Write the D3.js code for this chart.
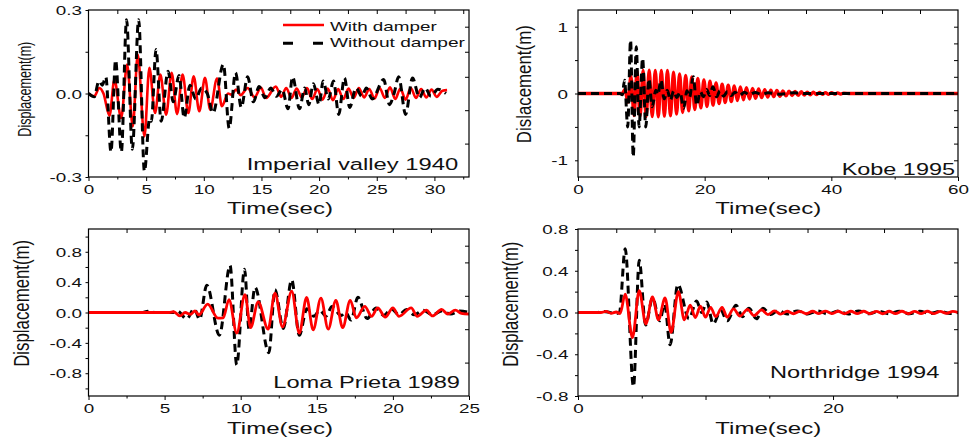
<!DOCTYPE html>
<html>
<head>
<meta charset="utf-8">
<script src="https://cdn.jsdelivr.net/npm/d3@7"></script>
<style>
  body { margin: 0; background: #fff; }
  svg { display: block; }
</style>
</head>
<body>
<main></main>
<script>
const width = 969;
const height = 445;
const FONT = "'Liberation Sans', Arial, sans-serif";
const STRETCH = 1.45; // the source picture is stretched sideways

// ---- data: [time (s), displacement (m)] at the wave extremes ----
const imperialWith = [[0,0],[0.5,-0.01],[0.95,0.02],[1.3,0.0],[1.82,-0.08],[2.25,0.05],[2.83,-0.088],[3.35,0.104],[3.84,-0.118],[4.27,0.14],[4.85,-0.154],[5.28,0.092],[5.77,-0.07],[6.23,0.068],[6.73,-0.076],[7.21,0.074],[7.68,-0.074],[8.16,0.068],[8.66,-0.07],[9.12,0.062],[9.61,-0.064],[10.1,0.056],[10.56,-0.058],[11.15,0.054],[11.57,-0.046],[12.1,0.0],[12.4,-0.004],[12.8,0.014],[13.2,-0.006],[13.8,0.02],[14.4,-0.014],[14.95,0.021],[15.4,-0.016],[16.25,0.025],[16.7,-0.012],[17.15,0.02],[17.6,-0.016],[18.05,0.018],[18.5,-0.014],[18.95,0.02],[19.4,-0.02],[19.85,0.016],[20.3,-0.022],[20.75,0.018],[21.2,-0.024],[21.65,0.016],[22.1,-0.02],[22.55,0.018],[23.0,-0.016],[23.45,0.02],[23.9,-0.014],[24.35,0.016],[24.8,-0.018],[25.25,0.02],[25.7,-0.016],[26.15,0.022],[26.6,-0.02],[27.05,0.018],[27.5,-0.022],[27.95,0.02],[28.4,-0.016],[28.85,0.016],[29.3,-0.014],[29.75,0.014],[30.2,-0.012],[30.7,0.01],[31.1,0.012]];
const imperialWithout = [[0,0],[0.5,-0.012],[0.9,0.045],[1.2,0.03],[1.5,0.06],[1.95,-0.21],[2.35,0.12],[2.85,-0.21],[3.3,0.265],[3.8,-0.2],[4.35,0.265],[4.85,-0.28],[5.3,-0.09],[5.45,-0.1],[5.86,0.158],[6.3,-0.1],[6.9,0.08],[7.35,-0.03],[7.85,0.065],[8.3,-0.088],[8.8,0.03],[9.3,-0.02],[9.8,0.02],[10.3,0.0],[10.8,-0.07],[11.7,0.105],[12.2,-0.125],[12.75,0.075],[13.25,-0.05],[13.8,0.06],[14.3,-0.03],[14.8,0.025],[15.3,-0.015],[15.8,0.02],[16.3,-0.01],[16.8,0.015],[17.3,-0.055],[17.7,0.06],[18.3,-0.055],[18.75,0.02],[19.1,-0.04],[19.5,0.035],[20.0,-0.04],[20.35,0.045],[20.8,-0.02],[21.25,0.045],[21.7,-0.075],[22.2,0.056],[22.65,-0.05],[23.2,0.02],[23.7,-0.01],[24.1,0.02],[24.6,-0.02],[25.6,0.05],[26.1,-0.04],[26.5,0.0],[26.9,0.06],[27.5,-0.075],[28.1,0.056],[28.7,-0.015],[29.2,0.02],[29.7,-0.01],[30.3,0.015],[31.0,0.0]];

const kobeWith = [[0,0],[7.0,0],[7.40,0.06],[7.88,-0.13],[8.36,0.26],[8.84,-0.33],[9.32,0.34],[9.80,-0.34],[10.28,0.345],[10.76,-0.345],[11.24,0.35],[11.72,-0.345],[12.20,0.345],[12.68,-0.35],[13.16,0.345],[13.64,-0.34],[14.12,0.345],[14.60,-0.335],[15.08,0.32],[15.56,-0.31],[16.04,0.295],[16.52,-0.285],[17.00,0.27],[17.48,-0.26],[17.96,0.25],[18.44,-0.24],[18.92,0.225],[19.40,-0.215],[19.88,0.205],[20.36,-0.195],[20.84,0.185],[21.32,-0.175],[21.80,0.16],[22.28,-0.15],[22.76,0.14],[23.24,-0.135],[23.72,0.125],[24.20,-0.12],[24.68,0.112],[25.16,-0.106],[25.64,0.1],[26.12,-0.094],[26.60,0.088],[27.08,-0.082],[27.56,0.077],[28.04,-0.072],[28.52,0.067],[29.00,-0.063],[29.48,0.059],[29.96,-0.055],[30.44,0.051],[30.92,-0.048],[31.40,0.045],[31.88,-0.042],[32.36,0.039],[32.84,-0.036],[33.32,0.034],[33.80,-0.032],[34.28,0.03],[34.76,-0.028],[35.24,0.026],[35.72,-0.024],[36.20,0.022],[36.68,-0.02],[37.16,0.019],[37.64,-0.017],[38.12,0.016],[38.60,-0.014],[39.08,0.013],[39.56,-0.012],[40.04,0.011],[40.52,-0.01],[41.00,0.009],[41.48,-0.008],[41.96,0.007],[43,0],[60,0]];
const kobeWithout = [[0,0],[6.6,0],[7.0,-0.02],[7.35,0.2],[7.85,-0.5],[8.3,0.8],[8.72,-0.95],[9.2,0.7],[9.65,-0.5],[10.2,0.53],[10.7,-0.5],[11.2,0.22],[11.7,-0.2],[12.3,0.05],[12.6,-0.02],[13.1,0.2],[13.6,-0.08],[14.1,0.05],[14.6,-0.1],[15.1,0.04],[15.6,-0.06],[16.1,0.02],[16.7,-0.22],[17.2,0.04],[17.6,-0.06],[18.2,0.25],[18.75,-0.18],[19.3,0.03],[19.8,-0.05],[20.3,0.06],[20.8,-0.03],[21.3,0.1],[21.9,-0.05],[22.4,0.04],[23.0,-0.04],[23.6,0.03],[24.2,-0.03],[24.8,0.02],[25.5,-0.03],[26.3,0.02],[27.0,-0.02],[28.0,0.015],[29.0,-0.015],[30.0,0.01],[32.0,-0.01],[34.0,0.01],[36.0,0],[60,0]];

const lomaWith = [[0,0],[5.3,0],[5.6,0.01],[6.0,-0.045],[6.35,0.0],[6.7,-0.025],[7.0,0.02],[7.25,-0.03],[7.83,0.11],[8.5,-0.075],[8.85,-0.07],[9.23,0.17],[9.74,-0.27],[10.28,0.235],[10.65,-0.2],[11.15,0.14],[11.8,-0.22],[12.25,0.256],[12.75,-0.19],[13.35,0.28],[13.85,-0.27],[14.33,0.2],[14.76,-0.23],[15.27,0.19],[15.75,-0.22],[16.25,0.16],[16.7,-0.2],[17.2,0.16],[17.6,-0.07],[18.15,0.08],[18.6,-0.05],[19.0,0.06],[19.5,-0.06],[20.0,0.06],[20.4,-0.05],[21.2,0.06],[21.6,-0.05],[22.2,0.03],[22.6,-0.045],[23.2,0.04],[23.6,-0.02],[24.1,0.03],[24.5,-0.01],[25,-0.02]];
const lomaWithout = [[0,0],[3.5,0],[3.9,0.015],[4.4,0],[5.5,0],[5.85,0.02],[6.45,-0.085],[6.95,0.05],[7.3,-0.09],[7.77,0.36],[8.6,-0.3],[9.3,0.62],[9.74,-0.69],[10.25,0.57],[10.55,-0.22],[10.94,0.33],[11.85,-0.53],[12.25,0.3],[12.8,-0.21],[13.35,0.43],[13.85,-0.3],[14.35,0.05],[14.8,-0.05],[15.2,0.03],[15.6,-0.05],[16.0,0.08],[16.6,-0.04],[16.9,0.0],[17.25,-0.1],[17.7,0.2],[18.3,-0.08],[18.9,0.06],[19.4,-0.04],[19.9,0.05],[20.4,-0.03],[20.9,0.04],[21.4,-0.03],[22.0,0.03],[22.6,-0.03],[23.2,0.02],[23.8,-0.02],[24.4,0.02],[25,0]];

const northWith = [[0,0],[1.8,0],[2.2,0.01],[2.6,-0.008],[3.0,0.005],[3.3,-0.01],[3.7,0.175],[4.27,-0.24],[4.8,0.21],[5.32,-0.11],[5.84,0.15],[6.31,-0.07],[6.83,0.14],[7.3,-0.19],[7.87,0.2],[8.34,-0.07],[8.8,0.07],[9.2,-0.05],[9.6,0.06],[10.0,-0.045],[10.4,0.05],[10.8,-0.04],[11.3,0.05],[11.7,-0.045],[12.2,0.035],[12.7,-0.035],[13.3,0.03],[13.8,-0.03],[14.4,0.025],[14.9,-0.02],[15.4,0.015],[15.9,-0.015],[16.4,0.012],[16.9,-0.012],[17.4,0.01],[17.9,-0.012],[18.4,0.012],[18.9,-0.01],[19.4,0.014],[19.9,-0.01],[20.4,0.012],[20.9,-0.012],[21.4,0.012],[21.9,-0.01],[22.4,0.012],[22.9,-0.012],[23.4,0.01],[23.9,-0.012],[24.4,0.012],[24.9,-0.01],[25.4,0.012],[25.9,-0.012],[26.4,0.01],[26.9,-0.01],[27.4,0.012],[27.9,-0.01],[28.4,0.01],[28.9,-0.008],[29.4,0.01],[29.8,0.0]];
const northWithout = [[0,0],[1.5,0],[2.0,0.01],[2.5,0],[3.0,-0.01],[3.25,0.0],[3.7,0.61],[4.35,-0.71],[4.8,0.5],[5.3,-0.12],[5.85,0.14],[6.4,-0.08],[6.8,0.08],[7.22,-0.31],[7.83,0.27],[8.7,-0.06],[9.3,0.11],[9.7,0.0],[10.1,0.1],[10.6,-0.11],[11.2,0.02],[11.7,-0.08],[12.4,0.07],[12.9,-0.04],[13.4,0.04],[14.0,-0.06],[14.5,0.04],[15.1,-0.02],[15.7,0.02],[16.4,-0.015],[17.2,0.015],[18.0,-0.015],[18.8,0.015],[19.6,-0.015],[20.4,0.015],[21.2,-0.015],[22.0,0.015],[22.8,-0.012],[23.6,0.012],[24.4,-0.012],[25.2,0.012],[26.0,-0.012],[26.8,0.012],[27.6,-0.01],[28.4,0.01],[29.2,-0.01],[29.8,0]];

// ---- ticks ----
const imperialXTicks = [0,5,10,15,20,25,30];
const imperialYTicks = [-0.3,-0.15,0,0.15,0.3];
const imperialYLabels = [-0.3,0,0.3];
const kobeXTicks = [0,20,40,60];
const kobeYTicks = [-1,-0.5,0,0.5,1];
const kobeYLabels = [-1,0,1];
const lomaXTicks = [0,5,10,15,20,25];
const lomaYTicks = [-1,-0.8,-0.6,-0.4,-0.2,0,0.2,0.4,0.6,0.8,1];
const lomaYLabels = [-0.8,-0.4,0,0.4,0.8];
const northXTicks = [0,10,20];
const northXLabels = [0,20];
const northYTicks = [-0.8,-0.6,-0.4,-0.2,0,0.2,0.4,0.6,0.8];
const northYLabels = [-0.8,-0.4,0,0.4,0.8];

const panels = [
    {id: 1, left: 88.5, right: 469, top: 10, bottom: 177, xDomain: [0, 33], yDomain: [-0.3, 0.3],
     red: imperialWith, black: imperialWithout, redOnTop: false, redWidth: 2.6,
     xMajor: imperialXTicks, xLabels: imperialXTicks, xMinor: [2.5,7.5,12.5,17.5,22.5,27.5,32.5],
     xTop: [2.5,5,7.5,10,12.5,15,17.5,20,22.5,25,27.5,30,32.5],
     yTicks: imperialYTicks, yLabels: imperialYLabels, yRight: [0.24,0.15,0.06,-0.06,-0.18],
     yFmt: v => v.toFixed(1), yGap: 6.5,
     yTitle: "Displacement(m)", yt: {cx: 24.7, cy: 89.2, size: 13, len: 95},
     timeX: 280, timeY: 214,
     note: "Imperial valley 1940", nt: {x: 246.7, y: 170, len: 211.6}},
    {id: 2, left: 578, right: 958, top: 10, bottom: 177, xDomain: [0, 60], yDomain: [-1.25, 1.25],
     red: kobeWith, black: kobeWithout, redOnTop: false, redWidth: 3.3,
     xMajor: kobeXTicks, xLabels: kobeXTicks, xMinor: [10,30,50],
     xTop: [6,12,18,24,30,36,42,48,54],
     yTicks: kobeYTicks, yLabels: kobeYLabels, yRight: [-1,-0.75,-0.5,-0.25,0,0.25,0.5,0.75,1],
     yFmt: v => String(v), yGap: 10,
     yTitle: "Dislacement(m)", yt: {cx: 524.2, cy: 84.2, size: 14, len: 118},
     timeX: 768.3, timeY: 214,
     note: "Kobe 1995", nt: {x: 841.7, y: 175, len: 113.3}},
    {id: 3, left: 88.5, right: 469, top: 229, bottom: 396, xDomain: [0, 25], yDomain: [-1.1, 1.1],
     red: lomaWith, black: lomaWithout, redOnTop: true, redWidth: 2.8,
     xMajor: lomaXTicks, xLabels: lomaXTicks, xMinor: [2.5,7.5,12.5,17.5,22.5],
     xTop: [2.5,5,7.5,10,12.5,15,17.5,20,22.5],
     yTicks: lomaYTicks, yLabels: lomaYLabels, yRight: [0.88,0.66,0.22,-0.22,-0.66],
     yFmt: v => v.toFixed(1), yGap: 6.5,
     yTitle: "Displacement(m)", yt: {cx: 21.7, cy: 303.3, size: 15, len: 127},
     timeX: 280, timeY: 433.5,
     note: "Loma Prieta 1989", nt: {x: 273.3, y: 387.7, len: 186.7}},
    {id: 4, left: 578, right: 958, top: 229, bottom: 396, xDomain: [0, 29.8], yDomain: [-0.8, 0.8],
     red: northWith, black: northWithout, redOnTop: true, redWidth: 2.8,
     xMajor: northXTicks, xLabels: northXLabels, xMinor: [5,15,25],
     xTop: [3,6,9,12,15,18,21,24,27],
     yTicks: northYTicks, yLabels: northYLabels, yRight: [0.48,0.16,-0.16,-0.48],
     yFmt: v => v.toFixed(1), yGap: 9.5,
     yTitle: "Displacement(m)", yt: {cx: 510.8, cy: 304.2, size: 15.5, len: 125},
     timeX: 768.3, timeY: 433.5,
     note: "Northridge 1994", nt: {x: 770, y: 378.3, len: 169.3}}
];

const svg = d3.select("main")
    .append("svg")
        .attr("width", width)
        .attr("height", height)
        .attr("font-family", FONT);

function stretch(sel, k) {
    sel.each(function() {
        const w = this.getComputedTextLength();
        if (w > 0) d3.select(this).attr("textLength", w * k).attr("lengthAdjust", "spacingAndGlyphs");
    });
}

function styleAxis(g) {
    g.select(".domain").remove();
    g.attr("font-family", FONT).attr("font-size", 13);
    g.selectAll(".tick line").attr("stroke", "#000").attr("stroke-width", 1);
    g.selectAll("text").attr("fill", "#111");
}

function drawPanel(p) {
    const x = d3.scaleLinear().domain(p.xDomain).range([p.left, p.right]);
    const y = d3.scaleLinear().domain(p.yDomain).range([p.bottom, p.top]);
    const g = svg.append("g");

    g.append("clipPath")
        .attr("id", "clip" + p.id)
        .append("rect")
            .attr("x", p.left).attr("y", p.top)
            .attr("width", p.right - p.left).attr("height", p.bottom - p.top);

    const line = d3.line()
        .x(d => x(d[0]))
        .y(d => y(d[1]))
        .curve(d3.curveMonotoneX);

    const series = [
        {data: p.red, color: "#ff0000", width: p.redWidth, dash: null},
        {data: p.black, color: "#000", width: 3, dash: "8,5"}
    ];
    if (p.redOnTop) series.reverse();

    g.append("g")
        .attr("clip-path", `url(#clip${p.id})`)
        .selectAll("path")
        .data(series)
        .join("path")
            .attr("d", d => line(d.data))
            .attr("fill", "none")
            .attr("stroke", d => d.color)
            .attr("stroke-width", d => d.width)
            .attr("stroke-dasharray", d => d.dash);

    // bottom axis, major + minor
    const bottom = g.append("g")
        .attr("transform", `translate(0, ${p.bottom})`)
        .call(d3.axisBottom(x).tickValues(p.xMajor).tickSize(4).tickSizeOuter(0)
            .tickFormat(v => p.xLabels.includes(v) ? String(v) : ""))
        .call(styleAxis);
    bottom.selectAll("text").attr("dy", null).attr("y", 16.5).call(stretch, STRETCH);

    g.append("g")
        .attr("transform", `translate(0, ${p.bottom})`)
        .call(d3.axisBottom(x).tickValues(p.xMinor).tickSize(2.5).tickSizeOuter(0).tickFormat(""))
        .call(styleAxis);

    // top axis, inward ticks
    g.append("g")
        .attr("transform", `translate(0, ${p.top})`)
        .call(d3.axisTop(x).tickValues(p.xTop).tickSize(-4).tickSizeOuter(0).tickFormat(""))
        .call(styleAxis);

    // left axis
    const left = g.append("g")
        .attr("transform", `translate(${p.left}, 0)`)
        .call(d3.axisLeft(y).tickValues(p.yTicks).tickSize(3).tickSizeOuter(0)
            .tickFormat(v => p.yLabels.includes(v) ? p.yFmt(v) : ""))
        .call(styleAxis);
    left.selectAll("text").attr("x", -p.yGap).attr("dy", "0.36em").call(stretch, STRETCH);

    // right axis, inward ticks
    g.append("g")
        .attr("transform", `translate(${p.right}, 0)`)
        .call(d3.axisRight(y).tickValues(p.yRight).tickSize(-4).tickSizeOuter(0).tickFormat(""))
        .call(styleAxis);

    // frame
    g.append("rect")
        .attr("x", p.left).attr("y", p.top)
        .attr("width", p.right - p.left).attr("height", p.bottom - p.top)
        .attr("fill", "none")
        .attr("stroke", "#000")
        .attr("stroke-width", 1.2);

    // titles
    g.append("text")
        .attr("x", p.timeX).attr("y", p.timeY)
        .attr("text-anchor", "middle")
        .attr("font-size", 17)
        .attr("fill", "#111")
        .attr("textLength", 106).attr("lengthAdjust", "spacingAndGlyphs")
        .text("Time(sec)");

    g.append("text")
        .attr("transform", `translate(${p.yt.cx}, ${p.yt.cy}) scale(1.42, 1) rotate(-90)`)
        .attr("text-anchor", "middle")
        .attr("dominant-baseline", "central")
        .attr("font-size", p.yt.size)
        .attr("fill", "#111")
        .attr("textLength", p.yt.len).attr("lengthAdjust", "spacingAndGlyphs")
        .text(p.yTitle);

    g.append("text")
        .attr("x", p.nt.x).attr("y", p.nt.y)
        .attr("font-size", 16.3)
        .attr("fill", "#111")
        .attr("textLength", p.nt.len).attr("lengthAdjust", "spacingAndGlyphs")
        .text(p.note);
}

panels.forEach(drawPanel);

// legend, first panel only
const legend = svg.append("g");
legend.append("line")
    .attr("x1", 283).attr("x2", 324).attr("y1", 25).attr("y2", 25)
    .attr("stroke", "#ff0000").attr("stroke-width", 2.6);
legend.append("line")
    .attr("x1", 283).attr("x2", 323).attr("y1", 43.3).attr("y2", 43.3)
    .attr("stroke", "#000").attr("stroke-width", 3).attr("stroke-dasharray", "10,20");
legend.append("text")
    .attr("x", 330).attr("y", 30.7)
    .attr("font-size", 13.5).attr("fill", "#111")
    .attr("textLength", 106.7).attr("lengthAdjust", "spacingAndGlyphs")
    .text("With damper");
legend.append("text")
    .attr("x", 330).attr("y", 47.3)
    .attr("font-size", 13.5).attr("fill", "#111")
    .attr("textLength", 135).attr("lengthAdjust", "spacingAndGlyphs")
    .text("Without damper");
</script>
</body>
</html>
